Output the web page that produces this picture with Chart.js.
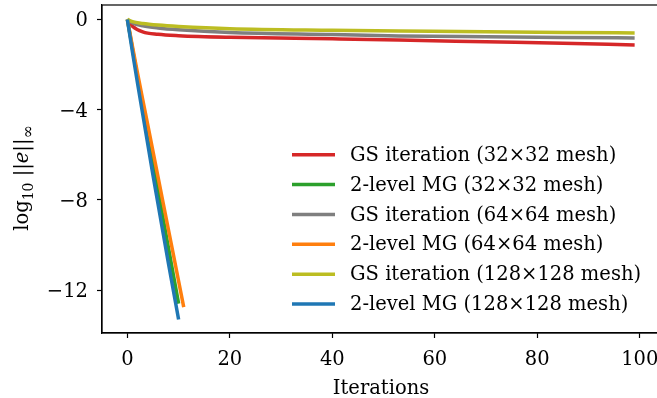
<!DOCTYPE html>
<html>
<head>
<meta charset="utf-8">
<script src="https://cdn.jsdelivr.net/npm/chart.js@4/dist/chart.umd.min.js"></script>
<style>
    html, body { margin: 0; padding: 0; background: #fff; overflow: hidden; }
    #wrap { width: 662px; height: 398px; }
</style>
</head>
<body>
<div id="wrap"><canvas id="chart" width="662" height="398"></canvas></div>
<script>
// Values
const gsIters = [0, 1, 3, 6, 10, 20, 40, 53, 70, 85, 99];
const gs32 = [0, -0.3, -0.55, -0.66, -0.72, -0.79, -0.86, -0.91, -0.99, -1.06, -1.13];
const gs64 = [0, -0.15, -0.28, -0.38, -0.46, -0.58, -0.67, -0.73, -0.77, -0.8, -0.82];
const gs128 = [0, -0.1, -0.18, -0.25, -0.31, -0.41, -0.48, -0.51, -0.55, -0.58, -0.6];

const mgIters32 = [0, 1, 2, 3, 4, 5, 6, 7, 8, 9, 10];
const mg32 = [0, -1.3, -2.6, -3.85, -5.1, -6.35, -7.6, -8.85, -10.1, -11.35, -12.6];
const mgIters64 = [0, 1, 2, 3, 4, 5, 6, 7, 8, 9, 10, 11];
const mg64 = [0, -1.2, -2.4, -3.55, -4.7, -5.85, -7.0, -8.15, -9.3, -10.45, -11.6, -12.75];
const mgIters128 = [0, 1, 2, 3, 4, 5, 6, 7, 8, 9, 10];
const mg128 = [0, -1.45, -2.85, -4.2, -5.55, -6.9, -8.2, -9.5, -10.8, -12.05, -13.3];

const xTicks = [0, 20, 40, 60, 80, 100];
const yTicks = [-12, -8, -4, 0];

const seriesLabels = [
    'GS iteration (32×32 mesh)',
    '2-level MG (32×32 mesh)',
    'GS iteration (64×64 mesh)',
    '2-level MG (64×64 mesh)',
    'GS iteration (128×128 mesh)',
    '2-level MG (128×128 mesh)'
];
const seriesColors = ['#d62728', '#2ca02c', '#7f7f7f', '#ff7f0e', '#bcbd22', '#1f77b4'];

const FONT = '"DejaVu Serif", serif';
const FS = 19.5;

function pairs(xs, ys) {
    return xs.map((x, i) => ({ x: x, y: ys[i] }));
}

const seriesData = [
    pairs(gsIters, gs32),
    pairs(mgIters32, mg32),
    pairs(gsIters, gs64),
    pairs(mgIters64, mg64),
    pairs(gsIters, gs128),
    pairs(mgIters128, mg128)
];

const datasets = seriesData.map((d, i) => ({
    label: seriesLabels[i],
    data: d,
    borderColor: seriesColors[i],
    backgroundColor: seriesColors[i],
    borderWidth: 3.5,
    pointRadius: 0,
    fill: false,
    cubicInterpolationMode: i % 2 === 0 ? 'monotone' : 'default',
    // matplotlib draws later series on top
    order: 6 - i
}));

// Box around the plot, legend and y-axis title
const framePlugin = {
    id: 'frame',
    afterDraw(chart) {
        const ctx = chart.ctx;
        const a = chart.chartArea;
        ctx.save();
        ctx.strokeStyle = '#000';
        ctx.lineWidth = 1.2;
        ctx.strokeRect(a.left, a.top, a.right - a.left, a.bottom - a.top);

        // legend
        ctx.font = FS + 'px ' + FONT;
        ctx.textBaseline = 'middle';
        ctx.textAlign = 'left';
        const rowH = 29.85;
        const x0 = a.right - 368;
        seriesLabels.forEach((lab, i) => {
            const y = a.bottom - 29 - (seriesLabels.length - 1 - i) * rowH;
            ctx.strokeStyle = seriesColors[i];
            ctx.lineWidth = 3.5;
            ctx.beginPath();
            ctx.moveTo(x0, y);
            ctx.lineTo(x0 + 43, y);
            ctx.stroke();
            ctx.fillStyle = '#000';
            ctx.fillText(lab, x0 + 58, y + 1);
        });

        // y-axis title: log10 ||e||inf
        const parts = [
            { t: 'log', f: FS + 'px ' + FONT, dy: 0 },
            { t: '10', f: '14px ' + FONT, dy: 5 },
            { t: ' ||', f: FS + 'px ' + FONT, dy: 0 },
            { t: 'e', f: 'italic ' + FS + 'px ' + FONT, dy: 0 },
            { t: '||', f: FS + 'px ' + FONT, dy: 0 },
            { t: '∞', f: '16px ' + FONT, dy: 5 }
        ];
        let total = 0;
        parts.forEach(p => { ctx.font = p.f; p.w = ctx.measureText(p.t).width; total += p.w; });
        ctx.translate(28, (a.top + a.bottom) / 2 + 9);
        ctx.rotate(-Math.PI / 2);
        ctx.textBaseline = 'alphabetic';
        ctx.fillStyle = '#000';
        let cx = -total / 2;
        parts.forEach(p => {
            ctx.font = p.f;
            ctx.fillText(p.t, cx, p.dy);
            cx += p.w;
        });
        ctx.restore();
    }
};

new Chart(document.getElementById('chart'), {
    type: 'line',
    data: { datasets: datasets },
    options: {
        responsive: false,
        animation: false,
        layout: { padding: { top: 5, right: 2, left: 0, bottom: 0 } },
        plugins: {
            legend: { display: false },
            tooltip: { enabled: false }
        },
        scales: {
            x: {
                type: 'linear',
                min: -4.95,
                max: 103.95,
                afterBuildTicks: s => { s.ticks = xTicks.map(v => ({ value: v })); },
                afterFit: s => { s.height = 65; s.paddingLeft = 0; s.paddingRight = 0; },
                grid: { display: true, drawOnChartArea: false, tickLength: 5, tickColor: '#000', tickWidth: 1.2 },
                border: { display: true, color: '#000', width: 1.2 },
                ticks: {
                    color: '#000',
                    padding: 10,
                    maxRotation: 0,
                    font: { family: FONT, size: FS }
                },
                title: {
                    display: true,
                    text: 'Iterations',
                    color: '#000',
                    padding: { top: -3, bottom: -3 },
                    font: { family: FONT, size: FS }
                }
            },
            y: {
                type: 'linear',
                min: -13.9,
                max: 0.64,
                afterBuildTicks: s => { s.ticks = yTicks.map(v => ({ value: v })); },
                afterFit: s => { s.width = 102; s.paddingTop = 0; s.paddingBottom = 0; },
                grid: { display: true, drawOnChartArea: false, tickLength: 5, tickColor: '#000', tickWidth: 1.2 },
                border: { display: true, color: '#000', width: 1.2 },
                ticks: {
                    color: '#000',
                    padding: 9,
                    labelOffset: 2,
                    font: { family: FONT, size: FS },
                    callback: v => (v < 0 ? '−' + Math.abs(v) : String(v))
                }
            }
        }
    },
    plugins: [framePlugin]
});
</script>
</body>
</html>
